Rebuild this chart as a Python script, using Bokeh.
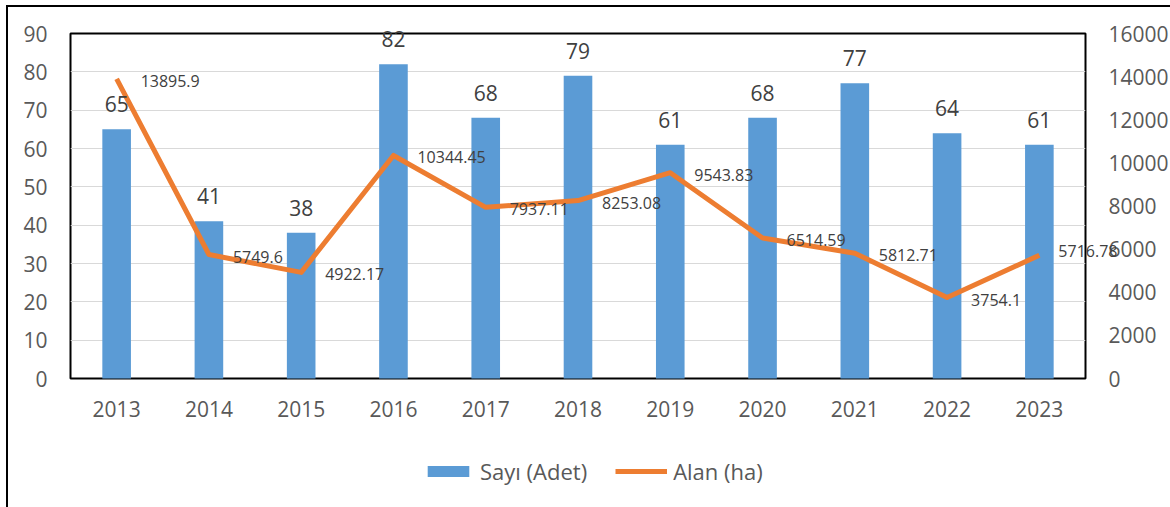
from bokeh.plotting import figure
from bokeh.models import (ColumnDataSource, LinearAxis, Range1d, Legend, LegendItem,
                          FactorRange, LabelSet, FixedTicker)
from bokeh.core.properties import value
from bokeh.embed import file_html
from bokeh.resources import INLINE

years = ["2013", "2014", "2015", "2016", "2017", "2018", "2019", "2020", "2021", "2022", "2023"]
counts = [65, 41, 38, 82, 68, 79, 61, 68, 77, 64, 61]
areas = [13895.9, 5749.6, 4922.17, 10344.45, 7937.11, 8253.08, 9543.83, 6514.59, 5812.71, 3754.1, 5716.78]
area_labels = ["13895.9", "5749.6", "4922.17", "10344.45", "7937.11", "8253.08",
               "9543.83", "6514.59", "5812.71", "3754.1", "5716.78"]
left_ticks = [0, 10, 20, 30, 40, 50, 60, 70, 80, 90]
right_ticks = [0, 2000, 4000, 6000, 8000, 10000, 12000, 14000, 16000]

# label offsets (style)
area_dx = [24, 24, 24, 24, 24, 24, 24, 24, 24, 24, 19]
area_dy = [-2, -2, -2, -2, -2, -2, -2, -2, -2, -2, 4]

FONT = "Open Sans"
BLUE = "#5B9BD5"
ORANGE = "#ED7D31"
TICK_COLOR = "#595959"
LABEL_COLOR = "#404040"

# geometry of the main plot
FW, FH = 1015, 345
BL, BT, BR, BB = 62, 26, 85, 129
CNT_MAX, AREA_MAX = 90, 16000

# ---------------- main figure: frame, grid and axes ----------------
p = figure(x_range=FactorRange(factors=years, range_padding=0),
           y_range=Range1d(0, CNT_MAX),
           frame_width=FW, frame_height=FH,
           min_border_left=BL, min_border_top=BT, min_border_right=BR, min_border_bottom=BB,
           output_backend="svg", toolbar_location=None,
           background_fill_color="white", border_fill_color="white",
           styles={"margin-left": "6px", "margin-top": "5px",
                   "border-left": "2px solid black", "border-top": "2px solid black"})
p.extra_y_ranges = {"area": Range1d(0, AREA_MAX)}

right = LinearAxis(y_range_name="area", ticker=FixedTicker(ticks=right_ticks))
p.add_layout(right, "right")
p.yaxis[0].ticker = FixedTicker(ticks=left_ticks)

for ax in [p.xaxis[0], p.yaxis[0], right]:
    ax.axis_line_color = None
    ax.major_tick_line_color = None
    ax.minor_tick_line_color = None
    ax.major_tick_out = 0
    ax.major_tick_in = 0
    ax.minor_tick_out = 0
    ax.minor_tick_in = 0
    ax.major_label_text_font = FONT
    ax.major_label_text_font_size = "21px"
    ax.major_label_text_color = TICK_COLOR
p.yaxis[0].major_label_standoff = 23
right.major_label_standoff = 23
p.xaxis[0].major_label_standoff = 22

p.xgrid.grid_line_color = None
p.ygrid.grid_line_color = "#D9D9D9"
p.ygrid.grid_line_width = 1
p.ygrid.ticker = FixedTicker(ticks=left_ticks)

p.outline_line_color = "black"
p.outline_line_width = 2

# ---------------- transparent overlay: bars, line, labels, legend ----------------
QW, QH = 1160, 500
cat_px = FW / len(years)
qx0 = -BL / cat_px
qx1 = (QW - BL) / cat_px
zero_from_bottom = QH - (BT + FH)
qy_c0 = -zero_from_bottom / FH * CNT_MAX
qy_c1 = (QH - zero_from_bottom) / FH * CNT_MAX
qy_a0 = -zero_from_bottom / FH * AREA_MAX
qy_a1 = (QH - zero_from_bottom) / FH * AREA_MAX

src = ColumnDataSource(dict(xpos=[i + 0.5 for i in range(len(years))], year=years,
                            count=counts, count_lbl=[str(c) for c in counts],
                            area=areas, area_lbl=area_labels, dx=area_dx, dy=area_dy))

q = figure(x_range=Range1d(qx0, qx1), y_range=Range1d(qy_c0, qy_c1),
           frame_width=QW, frame_height=QH,
           min_border=0, x_axis_location=None, y_axis_location=None,
           output_backend="svg", toolbar_location=None,
           background_fill_color=None, border_fill_color=None, outline_line_color=None,
           styles={"position": "absolute", "left": "8px", "top": "7px"})
q.extra_y_ranges = {"area": Range1d(qy_a0, qy_a1)}
q.grid.visible = False

bars = q.vbar(x="xpos", top="count", bottom=0, width=0.31, source=src,
              fill_color=BLUE, line_color=None)
line = q.line(x="xpos", y="area", source=src, y_range_name="area",
              line_width=5, line_color=ORANGE, line_join="round")

q.add_layout(LabelSet(x="xpos", y="count", text="count_lbl", source=src,
                      y_offset=25, text_align="center", text_baseline="middle",
                      text_font=value(FONT), text_font_size=value("21px"),
                      text_color=LABEL_COLOR))
q.add_layout(LabelSet(x="xpos", y="area", text="area_lbl", source=src, y_range_name="area",
                      x_offset="dx", y_offset="dy", text_align="left", text_baseline="middle",
                      text_font=value(FONT), text_font_size=value("16px"),
                      text_color=LABEL_COLOR))

legend = Legend(items=[LegendItem(label="Sayı (Adet)", renderers=[bars]),
                       LegendItem(label="Alan (ha)", renderers=[line])],
                orientation="horizontal", location=(414, 21),
                glyph_width=52, glyph_height=14, label_standoff=6, spacing=28,
                padding=0, margin=0, border_line_color=None, background_fill_alpha=0,
                label_text_font=FONT, label_text_font_size="22px", label_text_color=TICK_COLOR)
q.add_layout(legend, "center")

open("out.html", "w").write(file_html([p, q], INLINE))
